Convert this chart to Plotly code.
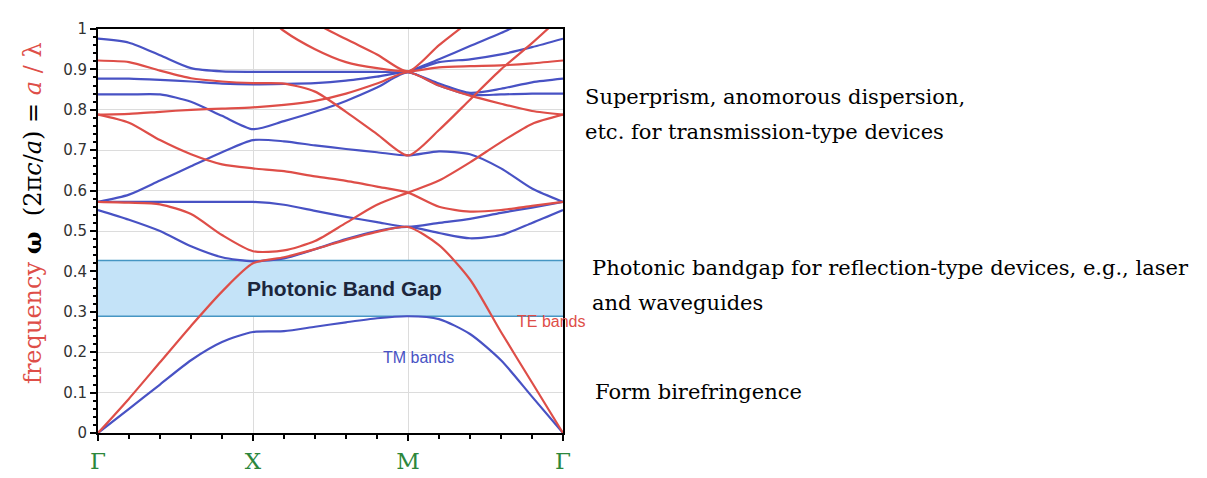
import plotly.graph_objects as go

# ---------------- data ----------------
k = [0, 0.2, 0.4, 0.6, 0.8, 1.0, 1.2, 1.4, 1.6, 1.8, 2.0, 2.2, 2.4, 2.6, 2.8, 3.0]
sym_pos = [0, 1, 2, 3]
sym_labels = ["Γ", "X", "M", "Γ"]

gap_low = 0.289
gap_high = 0.427

# TM bands (blue)
tm1 = [0, 0.06, 0.12, 0.18, 0.225, 0.25, 0.252, 0.263, 0.274, 0.284, 0.289, 0.282, 0.245, 0.18, 0.09, 0]
tm2 = [0.552, 0.528, 0.50, 0.462, 0.435, 0.425, 0.432, 0.455, 0.48, 0.50, 0.51, 0.495, 0.482, 0.49, 0.52, 0.552]
tm3 = [0.572, 0.572, 0.572, 0.572, 0.572, 0.572, 0.565, 0.55, 0.535, 0.522, 0.51, 0.52, 0.53, 0.545, 0.558, 0.572]
tm4 = [0.572, 0.59, 0.625, 0.66, 0.695, 0.725, 0.722, 0.712, 0.703, 0.695, 0.687, 0.697, 0.69, 0.655, 0.605, 0.572]
tm5 = [0.838, 0.838, 0.838, 0.82, 0.785, 0.752, 0.772, 0.795, 0.822, 0.855, 0.893, 0.86, 0.837, 0.838, 0.84, 0.84]
tm6 = [0.877, 0.877, 0.874, 0.87, 0.865, 0.863, 0.864, 0.866, 0.872, 0.882, 0.893, 0.865, 0.842, 0.852, 0.868, 0.877]
tm7 = [0.976, 0.966, 0.935, 0.903, 0.895, 0.894, 0.894, 0.894, 0.894, 0.894, 0.894, 0.918, 0.925, 0.937, 0.955, 0.976]
tm8 = [None, None, None, None, None, None, None, None, None, None, 0.894, 0.925, 0.958, 0.99, 1.025, 1.06]

# TE bands (red)
te1 = [0, 0.085, 0.175, 0.265, 0.35, 0.42, 0.435, 0.455, 0.478, 0.498, 0.51, 0.465, 0.38, 0.25, 0.125, 0]
te2 = [0.572, 0.57, 0.566, 0.542, 0.49, 0.45, 0.452, 0.475, 0.52, 0.565, 0.595, 0.625, 0.67, 0.72, 0.765, 0.788]
te3 = [0.788, 0.768, 0.725, 0.69, 0.665, 0.655, 0.648, 0.635, 0.624, 0.61, 0.595, 0.56, 0.548, 0.552, 0.562, 0.572]
te4 = [0.788, 0.79, 0.795, 0.80, 0.803, 0.806, 0.812, 0.822, 0.84, 0.865, 0.893, 0.86, 0.835, 0.815, 0.797, 0.788]
te5 = [0.922, 0.918, 0.897, 0.878, 0.87, 0.866, 0.865, 0.845, 0.795, 0.74, 0.687, 0.75, 0.825, 0.9, 0.965, 1.035]
te6 = [None, None, None, None, None, 1.06, 0.995, 0.95, 0.918, 0.903, 0.895, 0.905, 0.908, 0.91, 0.915, 0.922]
te7 = [None, None, None, None, None, None, 1.07, 1.015, 0.975, 0.937, 0.895, 0.96, 1.02, 1.08, None, None]

tm_bands = [tm1, tm2, tm3, tm4, tm5, tm6, tm7, tm8]
te_bands = [te1, te2, te3, te4, te5, te6, te7]

# ---------------- styling ----------------
TE_COLOR = "rgb(222,78,72)"
TM_COLOR = "rgb(72,82,196)"
SERIF = "DejaVu Serif"
SANS = "Liberation Sans"

OFF = 8  # page body margin in the browser
W, H = 1207, 478
L, R, T, B = 98 - OFF, 644 + OFF, 22 - OFF, 41 + OFF
PW, PH = W - L - R, H - T - B
X0, Y0 = L + OFF, T + OFF + PH  # screen pixel of plot origin


def px(x):
    return (x - X0) / PW


def py(y):
    return (Y0 - y) / PH


fig = go.Figure()

for band in tm_bands:
    fig.add_trace(go.Scatter(x=k, y=band, mode="lines",
                             line=dict(color=TM_COLOR, width=2.2, shape="spline", smoothing=0.7),
                             hoverinfo="skip", showlegend=False))
for band in te_bands:
    fig.add_trace(go.Scatter(x=k, y=band, mode="lines",
                             line=dict(color=TE_COLOR, width=2.2, shape="spline", smoothing=0.7),
                             hoverinfo="skip", showlegend=False))

# photonic band gap
fig.add_shape(type="rect", xref="x", yref="y", x0=sym_pos[0], x1=sym_pos[-1],
              y0=gap_low, y1=gap_high, fillcolor="rgb(196,227,248)",
              line=dict(width=0), layer="between")
for yv in (gap_low, gap_high):
    fig.add_shape(type="line", xref="x", yref="y", x0=sym_pos[0], x1=sym_pos[-1],
                  y0=yv, y1=yv, line=dict(color="rgb(70,150,195)", width=1.5), layer="between")

fig.add_annotation(x=1.59, y=(gap_low + gap_high) / 2, xref="x", yref="y",
                   text="<b>Photonic Band Gap</b>", showarrow=False,
                   font=dict(family=SANS, size=21, color="rgb(28,38,60)"))

fig.add_annotation(x=px(515), y=py(333), xref="paper", yref="paper", xanchor="left",
                   text="TE bands", showarrow=False,
                   font=dict(family=SANS, size=16, color=TE_COLOR))
fig.add_annotation(x=px(456), y=py(370), xref="paper", yref="paper",
                   text="TM bands", showarrow=False,
                   font=dict(family=SANS, size=16, color=TM_COLOR))

# y-axis title
ytitle = ("<span style='color:rgb(222,78,72)'>frequency</span> <b>ω</b>  "
          "(2π<i>c</i>/<i>a</i>) = <span style='color:rgb(222,78,72)'><i>a</i> / λ</span>")
fig.add_annotation(x=px(33), y=py(211), xref="paper", yref="paper", textangle=-90,
                   text=ytitle, showarrow=False, xanchor="center", yanchor="middle",
                   font=dict(family=SERIF, size=24, color="black"))

# right-hand notes
notes = [
    ("Superprism, anomorous dispersion,", 583, 92),
    ("etc. for transmission-type devices", 583, 128),
    ("Photonic bandgap for reflection-type devices, e.g., laser", 590, 267),
    ("and waveguides", 590, 303),
    ("Form birefringence", 593, 395),
]
for txt, xp, yp in notes:
    fig.add_annotation(x=px(xp), y=py(yp), xref="paper", yref="paper",
                       xanchor="left", yanchor="middle", text=txt, showarrow=False,
                       font=dict(family=SERIF, size=21, color="black"))

fig.update_layout(
    width=W, height=H,
    margin=dict(l=L, r=R, t=T, b=B),
    paper_bgcolor="white", plot_bgcolor="white",
    xaxis=dict(range=[0, 3], tickmode="array", tickvals=sym_pos, ticktext=sym_labels,
               tickfont=dict(family=SERIF, size=23, color="rgb(45,135,60)"),
               ticks="outside", ticklen=6, tickwidth=1.5, tickcolor="black",
               minor=dict(tickmode="linear", tick0=0, dtick=0.2, ticks="outside",
                          ticklen=4, tickcolor="black", showgrid=False),
               showgrid=True, gridcolor="rgb(220,220,220)", gridwidth=1,
               showline=True, linecolor="black", linewidth=2, mirror=True, zeroline=False),
    yaxis=dict(range=[0, 1], tick0=0, dtick=0.1,
               tickfont=dict(family="DejaVu Sans", size=15, color="rgb(50,50,50)"),
               ticks="outside", ticklen=6, tickwidth=1.5, tickcolor="black",
               minor=dict(tick0=0, dtick=0.02, ticks="outside", ticklen=3,
                          tickcolor="black", showgrid=False),
               showgrid=True, gridcolor="rgb(220,220,220)", gridwidth=1,
               showline=True, linecolor="black", linewidth=2, mirror=True, zeroline=False),
)

fig.write_html("out.html")
